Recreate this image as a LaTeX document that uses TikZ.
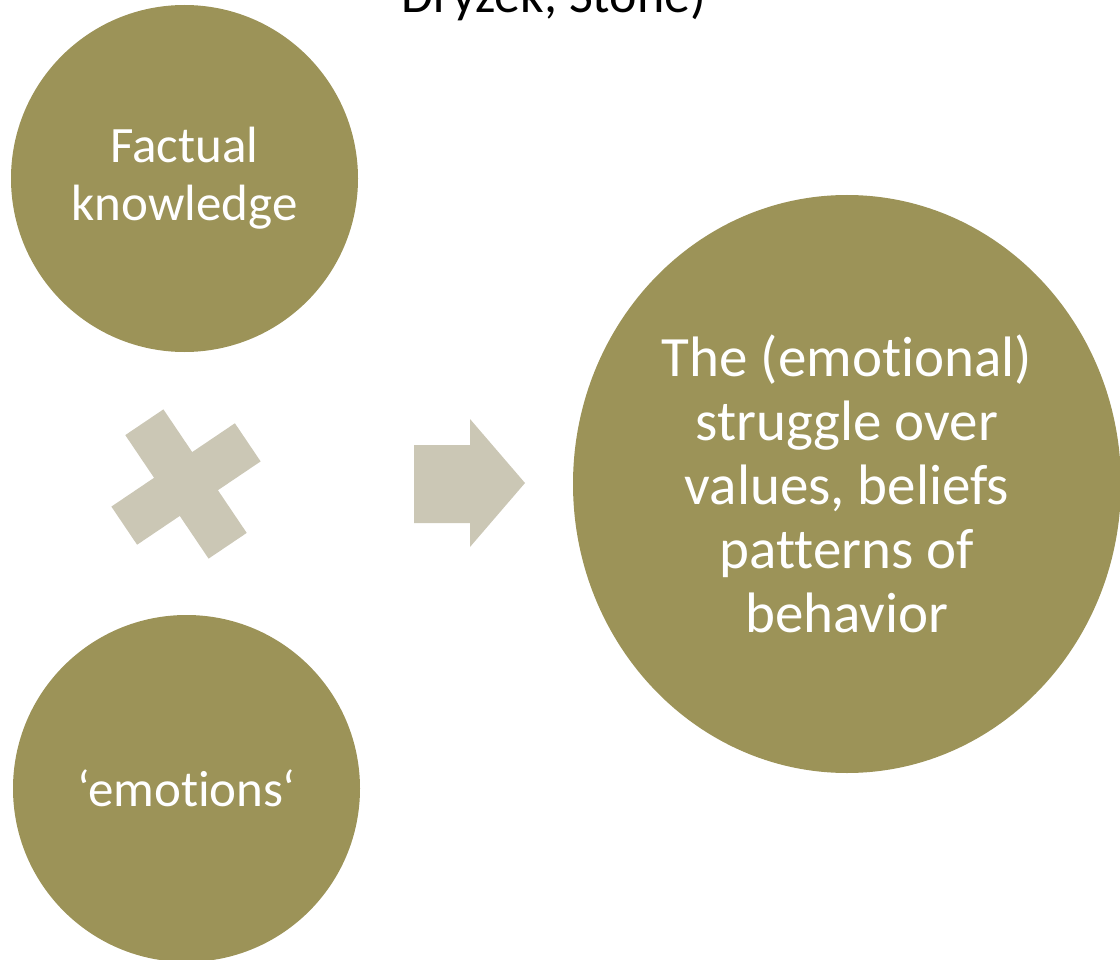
\documentclass[tikz,border=0pt]{standalone}
\usepackage{fontspec}
\setmainfont{Carlito}[Ligatures=NoCommon]
\usetikzlibrary{shapes.geometric}
\definecolor{bubblefill}{RGB}{156,147,88}
\definecolor{signfill}{RGB}{203,199,181}
\begin{document}
\begin{tikzpicture}
    [x=1pt,y=-1pt,
     bubble/.style={shape=circle,fill=bubblefill,text=white,inner sep=0pt,
       minimum size=347pt,align=center,font=\fontsize{51}{58}\selectfont},
     sign/.style={fill=signfill}]
    \useasboundingbox (0,0) rectangle (1120,960);
    \clip (0,0) rectangle (1120,960);
    \node [anchor=base,font=\fontsize{52}{60}\selectfont] (T) at (554,13) {Dryzek, Stone)};
    \node [bubble] (F) at (184.5,178.5) {Factual\\knowledge};
    \node [bubble] (E) at (186.5,788.5) {‘emotions‘};
    \node [bubble,shape=ellipse,minimum width=548pt,minimum height=578pt,
      font=\fontsize{57}{64}\selectfont] (S) at (847,484)
      {The (emotional)\\struggle over\\values, beliefs\\patterns of\\behavior};
    \fill [sign,shift={(186,484)},rotate=34]
      (-23,-74.5) -- (23,-74.5) -- (23,-23) -- (74.5,-23) -- (74.5,23) -- (23,23)
      -- (23,74.5) -- (-23,74.5) -- (-23,23) -- (-74.5,23) -- (-74.5,-23) -- (-23,-23) -- cycle;
    \fill [sign] (414,445) -- (470,445) -- (470,419) -- (525,483) -- (470,547)
      -- (470,523) -- (414,523) -- cycle;
  \end{tikzpicture}
\end{document}
